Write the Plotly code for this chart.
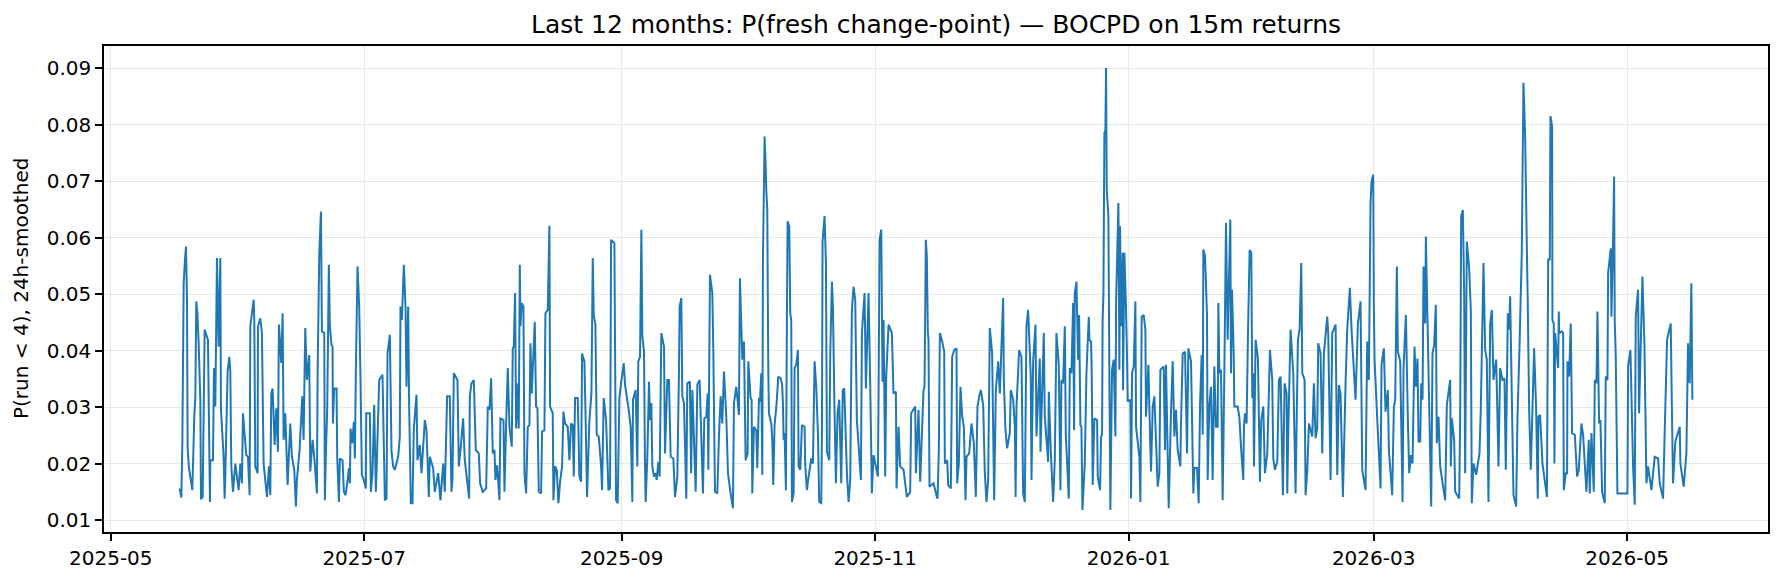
import datetime as dt
import plotly.graph_objects as go

TITLE = "Last 12 months: P(fresh change-point) — BOCPD on 15m returns"
Y_LABEL = "P(run < 4), 24h-smoothed"
BASE_DATE = dt.datetime(2025, 5, 1)

# (days since 2025-05-01, smoothed probability)
seg_may_jun = [
    (16.58, 0.0156), (16.99, 0.0140), (17.23, 0.0236), (17.55, 0.0519), (17.87, 0.0561), (18.11, 0.0584),
    (18.35, 0.0490), (18.51, 0.0227), (18.83, 0.0192), (19.63, 0.0153), (20.11, 0.0283), (20.35, 0.0316),
    (20.59, 0.0487), (20.85, 0.0466), (21.16, 0.0413), (21.56, 0.0313), (21.72, 0.0137), (22.12, 0.0141),
    (22.6, 0.0437), (23.4, 0.0419), (23.88, 0.0132), (23.96, 0.0206), (24.6, 0.0206), (24.85, 0.0369),
    (25.17, 0.0301), (25.57, 0.0564), (25.97, 0.0407), (26.37, 0.0564), (26.53, 0.0295), (27.17, 0.0212),
    (27.41, 0.0138), (27.57, 0.0177), (28.13, 0.0363), (28.53, 0.0389), (28.77, 0.0366), (29.02, 0.0195),
    (29.42, 0.0150), (29.98, 0.0200), (30.78, 0.0153), (31.18, 0.0200), (31.58, 0.0165), (31.82, 0.0289),
    (32.62, 0.0215), (33.02, 0.0212), (33.43, 0.0144), (33.59, 0.0443), (34.39, 0.0490), (34.55, 0.0454),
    (34.79, 0.0195), (35.35, 0.0183), (35.43, 0.0443), (35.99, 0.0457), (36.39, 0.0431), (36.79, 0.0200),
    (37.6, 0.0141), (38.08, 0.0195), (38.4, 0.0144), (38.64, 0.0324), (38.96, 0.0333), (39.44, 0.0233),
    (39.84, 0.0298), (40.24, 0.0221), (40.48, 0.0446), (41.04, 0.0378), (41.37, 0.0466), (41.61, 0.0242),
    (42.01, 0.0289), (42.57, 0.0162), (43.21, 0.0271), (43.61, 0.0212), (44.17, 0.0189), (44.57, 0.0124),
    (44.81, 0.0171), (45.45, 0.0224), (46.1, 0.0319), (46.42, 0.0242), (46.82, 0.0440), (47.22, 0.0348),
    (47.78, 0.0392), (48.02, 0.0186), (48.58, 0.0242), (48.98, 0.0212), (49.62, 0.0147), (49.8, 0.0363),
    (50.19, 0.0570), (50.59, 0.0646), (50.83, 0.0434), (51.39, 0.0431), (51.54, 0.0135),
]

seg_jun_jul = [
    (51.78, 0.0218), (52.1, 0.0295), (52.34, 0.0450), (52.5, 0.0552), (52.74, 0.0443), (53.14, 0.0410),
    (53.39, 0.0407), (53.47, 0.0271), (53.79, 0.0333), (54.35, 0.0333), (54.51, 0.0212), (54.91, 0.0132),
    (55.15, 0.0209), (55.79, 0.0206), (56.11, 0.0150), (56.51, 0.0144), (56.91, 0.0165), (57.32, 0.0192),
    (57.56, 0.0165), (57.72, 0.0262), (58.12, 0.0236), (58.52, 0.0274), (58.76, 0.0209), (59.0, 0.0366),
    (59.4, 0.0549), (59.8, 0.0478), (60.12, 0.0348), (60.44, 0.0180), (60.92, 0.0171), (61.4, 0.0156),
    (61.5, 0.0289), (62.37, 0.0289), (62.61, 0.0150), (63.01, 0.0183), (63.41, 0.0304), (63.81, 0.0150),
    (63.97, 0.0183), (64.61, 0.0348), (65.41, 0.0357), (65.98, 0.0135), (66.38, 0.0138), (66.62, 0.0395),
    (67.18, 0.0428), (67.58, 0.0221), (67.98, 0.0195), (68.38, 0.0189), (69.18, 0.0212), (69.58, 0.0248),
    (69.74, 0.0478), (70.07, 0.0454), (70.55, 0.0552), (70.95, 0.0478), (71.19, 0.0336), (71.59, 0.0478),
    (71.83, 0.0301), (72.23, 0.0130), (72.63, 0.0130), (72.95, 0.0262), (73.59, 0.0322), (73.83, 0.0206),
    (74.4, 0.0233), (74.8, 0.0183), (75.6, 0.0277), (76.0, 0.0259), (76.56, 0.0141), (76.8, 0.0212),
    (77.6, 0.0192), (78.0, 0.0150), (78.81, 0.0183), (79.37, 0.0135), (80.01, 0.0200), (80.41, 0.0150),
    (80.97, 0.0319), (81.61, 0.0319), (82.01, 0.0150), (82.25, 0.0171), (82.58, 0.0360), (83.46, 0.0348),
    (83.78, 0.0195), (84.26, 0.0230), (84.82, 0.0280), (85.22, 0.0206), (86.27, 0.0138), (86.43, 0.0319),
    (86.83, 0.0342), (87.39, 0.0348), (87.87, 0.0224),
]

seg_aug_sep = [
    (88.59, 0.0218), (88.91, 0.0165), (89.55, 0.0150), (90.36, 0.0156), (90.76, 0.0301), (91.16, 0.0295),
    (91.56, 0.0351), (91.96, 0.0218), (92.36, 0.0224), (92.6, 0.0171), (93.0, 0.0197), (93.56, 0.0135),
    (93.8, 0.0280), (94.53, 0.0277), (94.77, 0.0150), (95.17, 0.0271), (95.57, 0.0369), (95.97, 0.0265),
    (96.53, 0.0230), (96.77, 0.0404), (97.01, 0.0407), (97.33, 0.0502), (97.57, 0.0262), (97.73, 0.0342),
    (98.21, 0.0262), (98.46, 0.0552), (98.62, 0.0443), (98.94, 0.0484), (99.34, 0.0478), (99.58, 0.0183),
    (99.98, 0.0147), (100.38, 0.0265), (100.78, 0.0268), (101.02, 0.0413), (101.34, 0.0324), (102.06, 0.0451),
    (102.38, 0.0301), (102.71, 0.0298), (103.03, 0.0150), (103.59, 0.0147), (103.83, 0.0257), (104.39, 0.0259),
    (104.63, 0.0466), (105.19, 0.0472), (105.59, 0.0621), (105.75, 0.0301), (106.39, 0.0289), (106.55, 0.0135),
    (106.96, 0.0195), (107.36, 0.0189), (107.76, 0.0130), (108.16, 0.0168), (108.64, 0.0195), (108.96, 0.0292),
    (109.36, 0.0271), (110.0, 0.0265), (110.4, 0.0206), (110.8, 0.0271), (111.21, 0.0268), (111.45, 0.0177),
    (111.77, 0.0316), (112.41, 0.0316), (112.81, 0.0177), (113.21, 0.0168), (113.45, 0.0395), (114.01, 0.0381),
    (114.25, 0.0301), (114.65, 0.0141), (115.22, 0.0277), (115.7, 0.0324), (116.02, 0.0564), (116.26, 0.0463),
    (116.66, 0.0446), (116.98, 0.0251), (117.46, 0.0248), (118.02, 0.0197), (118.26, 0.0153), (118.66, 0.0316),
    (119.23, 0.0277), (119.79, 0.0153), (120.19, 0.0156), (120.43, 0.0596), (121.23, 0.0590), (121.63, 0.0135),
    (122.03, 0.0130), (122.43, 0.0316), (122.83, 0.0342), (123.48, 0.0378), (123.8, 0.0339), (124.68, 0.0295),
]

seg_sep_oct = [
    (125.15, 0.0265), (125.55, 0.0132), (125.71, 0.0313), (126.35, 0.0330), (126.75, 0.0195), (126.99, 0.0381),
    (127.4, 0.0389), (127.72, 0.0614), (127.96, 0.0425), (128.36, 0.0398), (128.6, 0.0195), (128.76, 0.0132),
    (129.16, 0.0212), (129.56, 0.0345), (129.8, 0.0277), (130.12, 0.0307), (130.36, 0.0195), (130.76, 0.0177),
    (131.17, 0.0183), (131.41, 0.0171), (131.81, 0.0203), (132.13, 0.0177), (132.53, 0.0431), (133.17, 0.0407),
    (133.41, 0.0218), (133.97, 0.0348), (134.37, 0.0348), (134.77, 0.0212), (135.42, 0.0209), (135.82, 0.0141),
    (136.38, 0.0177), (136.78, 0.0366), (136.94, 0.0478), (137.34, 0.0493), (137.58, 0.0319), (137.98, 0.0307),
    (138.54, 0.0138), (138.78, 0.0342), (139.4, 0.0345), (139.7, 0.0183), (140.0, 0.0330), (140.79, 0.0150),
    (141.2, 0.0340), (141.75, 0.0348), (142.55, 0.0147), (142.87, 0.0280), (143.35, 0.0283), (143.68, 0.0324),
    (143.84, 0.0189), (144.0, 0.0324), (144.24, 0.0534), (144.8, 0.0502), (145.04, 0.0401), (145.44, 0.0150),
    (146.0, 0.0147), (146.4, 0.0248), (146.8, 0.0319), (147.2, 0.0271), (147.6, 0.0363), (148.17, 0.0283),
    (148.57, 0.0183), (149.21, 0.0147), (149.77, 0.0121), (150.01, 0.0307), (150.57, 0.0336), (151.21, 0.0286),
    (151.45, 0.0528), (152.02, 0.0384), (152.42, 0.0416), (152.82, 0.0206), (153.3, 0.0218), (153.46, 0.0381),
    (154.02, 0.0316), (154.26, 0.0313), (154.42, 0.0147), (154.82, 0.0265), (155.38, 0.0259), (155.62, 0.0192),
    (156.03, 0.0316), (156.27, 0.0310), (156.59, 0.0360), (156.83, 0.0180), (156.99, 0.0567), (157.39, 0.0779),
    (157.63, 0.0729), (157.79, 0.0685), (158.03, 0.0649), (158.27, 0.0369), (158.43, 0.0289), (158.99, 0.0271),
    (159.23, 0.0242), (159.47, 0.0162), (159.79, 0.0268), (160.28, 0.0307), (160.68, 0.0354), (161.24, 0.0351),
    (161.6, 0.0340), (161.8, 0.0307), (161.96, 0.0242), (162.2, 0.0254), (162.52, 0.0153),
]

seg_oct_nov = [
    (162.76, 0.0460), (162.92, 0.0629), (163.32, 0.0620), (163.56, 0.0466), (163.8, 0.0454), (163.97, 0.0132),
    (164.37, 0.0147), (164.61, 0.0369), (165.01, 0.0375), (165.41, 0.0401), (165.57, 0.0195), (165.97, 0.0189),
    (166.37, 0.0268), (167.01, 0.0265), (167.17, 0.0197), (167.57, 0.0153), (167.98, 0.0177), (168.62, 0.0209),
    (169.02, 0.0200), (169.42, 0.0381), (169.82, 0.0336), (170.22, 0.0254), (170.54, 0.0132), (171.02, 0.0130),
    (171.18, 0.0245), (171.34, 0.0593), (171.82, 0.0638), (172.15, 0.0555), (172.39, 0.0221), (172.95, 0.0206),
    (173.19, 0.0395), (173.59, 0.0522), (173.83, 0.0478), (174.23, 0.0289), (174.55, 0.0165), (174.95, 0.0289),
    (175.35, 0.0313), (175.83, 0.0165), (176.2, 0.0330), (176.56, 0.0333), (177.2, 0.0183), (177.6, 0.0132),
    (178.0, 0.0171), (178.4, 0.0472), (178.8, 0.0513), (179.2, 0.0490), (179.6, 0.0277), (180.0, 0.0233),
    (180.57, 0.0171), (180.81, 0.0431), (181.45, 0.0502), (181.77, 0.0333), (182.41, 0.0502), (182.81, 0.0339),
    (183.21, 0.0147), (183.61, 0.0215), (184.25, 0.0192), (184.66, 0.0177), (184.82, 0.0324), (185.06, 0.0596),
    (185.46, 0.0614), (185.78, 0.0345), (186.02, 0.0454), (186.42, 0.0177), (186.66, 0.0354), (187.22, 0.0446),
    (188.02, 0.0431), (188.42, 0.0324), (188.99, 0.0327), (189.15, 0.0156), (189.63, 0.0265), (190.03, 0.0195),
    (190.83, 0.0189), (191.63, 0.0141), (192.43, 0.0150), (192.67, 0.0289), (193.64, 0.0301), (193.8, 0.0183),
    (194.44, 0.0295), (194.84, 0.0168), (195.64, 0.0330), (195.88, 0.0336), (196.2, 0.0596), (196.44, 0.0567),
    (196.68, 0.0431), (196.84, 0.0419), (197.08, 0.0159), (198.05, 0.0165), (198.85, 0.0141),
]

seg_nov_dec = [
    (199.01, 0.0138), (199.33, 0.0224), (199.57, 0.0431), (200.13, 0.0416), (200.62, 0.0398), (200.78, 0.0200),
    (201.34, 0.0206), (201.58, 0.0162), (202.22, 0.0156), (202.54, 0.0389), (203.02, 0.0401), (203.58, 0.0404),
    (203.74, 0.0165), (204.14, 0.0200), (204.54, 0.0336), (204.95, 0.0283), (205.35, 0.0265), (205.75, 0.0135),
    (205.99, 0.0212), (206.63, 0.0218), (207.19, 0.0271), (207.75, 0.0236), (208.23, 0.0141), (208.63, 0.0301),
    (209.04, 0.0319), (209.44, 0.0330), (210.0, 0.0304), (210.4, 0.0183), (210.8, 0.0132), (211.2, 0.0171),
    (211.6, 0.0440), (212.16, 0.0395), (212.64, 0.0135), (213.05, 0.0330), (213.61, 0.0381), (214.01, 0.0324),
    (214.81, 0.0493), (214.97, 0.0348), (215.37, 0.0259), (215.77, 0.0227), (216.41, 0.0254), (216.65, 0.0330),
    (217.22, 0.0313), (217.62, 0.0268), (217.8, 0.0141), (218.02, 0.0301), (218.66, 0.0401), (219.22, 0.0389),
    (219.62, 0.0147), (220.02, 0.0132), (220.42, 0.0443), (220.82, 0.0472), (221.46, 0.0354), (221.63, 0.0171),
    (222.03, 0.0381), (222.59, 0.0446), (222.83, 0.0248), (223.23, 0.0316), (223.63, 0.0386), (223.79, 0.0221),
    (224.59, 0.0431), (224.83, 0.0283), (225.64, 0.0203), (225.8, 0.0327), (226.28, 0.0221), (226.84, 0.0132),
    (227.24, 0.0206), (227.64, 0.0431), (228.2, 0.0375), (228.6, 0.0153), (228.84, 0.0348), (229.24, 0.0342),
    (229.65, 0.0443), (229.89, 0.0251), (230.61, 0.0138), (230.85, 0.0369), (231.25, 0.0360), (231.65, 0.0484),
    (231.89, 0.0259), (232.05, 0.0502), (232.45, 0.0522), (232.85, 0.0384), (233.09, 0.0463), (233.41, 0.0268),
    (233.65, 0.0265), (233.9, 0.0118), (234.46, 0.0200), (234.86, 0.0360), (235.42, 0.0460),
]

seg_dec_jan = [
    (235.57, 0.0419), (235.97, 0.0416), (236.13, 0.0360), (236.37, 0.0162), (236.77, 0.0280), (237.42, 0.0277),
    (237.58, 0.0177), (238.14, 0.0153), (238.38, 0.0248), (238.62, 0.0251), (238.75, 0.0454), (238.94, 0.0496),
    (239.18, 0.0785), (239.42, 0.0791), (239.58, 0.0900), (239.74, 0.0685), (240.14, 0.0638), (240.38, 0.0354),
    (240.62, 0.0118), (241.02, 0.0366), (241.42, 0.0384), (241.83, 0.0248), (242.0, 0.0487), (242.55, 0.0661),
    (242.79, 0.0366), (242.95, 0.0620), (243.19, 0.0443), (243.59, 0.0573), (243.67, 0.0330), (243.99, 0.0573),
    (244.39, 0.0472), (244.63, 0.0386), (244.79, 0.0310), (245.43, 0.0313), (245.6, 0.0138), (245.84, 0.0360),
    (246.24, 0.0372), (246.64, 0.0487), (246.8, 0.0265), (247.6, 0.0212), (247.84, 0.0132), (248.16, 0.0460),
    (248.64, 0.0463), (249.04, 0.0437), (249.2, 0.0283), (249.77, 0.0375), (250.17, 0.0248), (250.41, 0.0186),
    (250.81, 0.0301), (251.21, 0.0319), (252.01, 0.0159), (252.41, 0.0183), (252.65, 0.0366), (253.45, 0.0372),
    (253.77, 0.0224), (254.01, 0.0375), (254.66, 0.0121), (255.22, 0.0292), (255.62, 0.0381), (256.02, 0.0248),
    (256.42, 0.0295), (256.82, 0.0224), (257.46, 0.0195), (257.62, 0.0271), (258.03, 0.0395), (258.59, 0.0398),
    (259.07, 0.0218), (259.39, 0.0404), (260.03, 0.0381), (260.59, 0.0147), (260.83, 0.0192), (261.47, 0.0192),
    (261.88, 0.0130), (262.2, 0.0304), (262.6, 0.0392), (262.84, 0.0251), (263.0, 0.0579), (263.4, 0.0567),
    (263.88, 0.0463), (264.04, 0.0171), (264.44, 0.0304), (264.84, 0.0336), (265.24, 0.0171), (265.64, 0.0372),
    (266.04, 0.0265), (266.45, 0.0265), (266.61, 0.0484), (266.85, 0.0360), (267.25, 0.0366), (267.65, 0.0135),
    (268.05, 0.0360), (268.45, 0.0626), (268.85, 0.0419), (269.49, 0.0632), (269.65, 0.0360), (269.89, 0.0508),
    (270.3, 0.0395), (270.46, 0.0301), (271.26, 0.0301), (271.66, 0.0283), (272.06, 0.0230),
]

seg_feb_mar = [
    (272.61, 0.0171), (272.77, 0.0265), (273.01, 0.0289), (273.41, 0.0271), (273.73, 0.0425), (274.14, 0.0578),
    (274.54, 0.0573), (274.78, 0.0316), (275.02, 0.0360), (275.18, 0.0195), (275.58, 0.0419), (276.14, 0.0386),
    (276.62, 0.0168), (276.94, 0.0277), (277.42, 0.0301), (277.82, 0.0183), (278.39, 0.0218), (279.03, 0.0401),
    (279.59, 0.0348), (279.83, 0.0209), (280.23, 0.0189), (280.79, 0.0203), (281.19, 0.0348), (281.59, 0.0354),
    (282.15, 0.0144), (282.56, 0.0342), (283.04, 0.0324), (283.2, 0.0147), (283.44, 0.0259), (284.0, 0.0437),
    (284.64, 0.0360), (285.2, 0.0147), (285.76, 0.0419), (286.16, 0.0437), (286.57, 0.0555), (286.81, 0.0360),
    (287.37, 0.0348), (287.61, 0.0144), (288.01, 0.0186), (288.41, 0.0271), (289.21, 0.0248), (289.61, 0.0342),
    (290.01, 0.0245), (290.41, 0.0262), (290.65, 0.0413), (291.22, 0.0395), (291.62, 0.0218), (292.02, 0.0395),
    (292.82, 0.0460), (293.06, 0.0431), (293.62, 0.0171), (294.02, 0.0431), (294.83, 0.0446), (295.23, 0.0180),
    (295.63, 0.0339), (296.03, 0.0322), (296.59, 0.0141), (297.23, 0.0342), (297.63, 0.0437), (298.27, 0.0511),
    (298.67, 0.0437), (299.64, 0.0313), (300.2, 0.0448), (300.84, 0.0487), (301.24, 0.0189), (302.04, 0.0153),
    (302.44, 0.0416), (302.84, 0.0348), (303.24, 0.0661), (303.5, 0.0700), (303.89, 0.0711), (304.05, 0.0470),
    (304.21, 0.0384), (304.85, 0.0280), (305.65, 0.0156), (305.89, 0.0375), (306.45, 0.0404), (306.85, 0.0292),
    (307.41, 0.0330), (307.66, 0.0224), (308.46, 0.0144), (308.86, 0.0301),
]

seg_mar_apr = [
    (309.18, 0.0313), (309.58, 0.0549), (309.82, 0.0398), (310.38, 0.0381), (310.62, 0.0277), (310.95, 0.0132),
    (311.19, 0.0369), (311.75, 0.0463), (312.23, 0.0277), (312.55, 0.0183), (312.95, 0.0215), (313.35, 0.0200),
    (313.83, 0.0407), (314.15, 0.0336), (314.55, 0.0386), (314.79, 0.0239), (315.2, 0.0239), (315.44, 0.0342),
    (315.76, 0.0313), (316.0, 0.0549), (316.4, 0.0448), (316.56, 0.0602), (317.2, 0.0363), (317.84, 0.0124),
    (318.16, 0.0395), (318.56, 0.0410), (318.96, 0.0481), (319.2, 0.0236), (319.61, 0.0283), (320.01, 0.0195),
    (320.65, 0.0162), (321.21, 0.0135), (321.61, 0.0304), (322.41, 0.0348), (322.57, 0.0195), (322.81, 0.0280),
    (323.37, 0.0242), (323.62, 0.0150), (324.58, 0.0138), (324.82, 0.0280), (325.06, 0.0638), (325.46, 0.0649),
    (325.78, 0.0502), (326.02, 0.0183), (326.42, 0.0593), (326.98, 0.0546), (327.38, 0.0472), (327.62, 0.0130),
    (328.03, 0.0200), (328.67, 0.0180), (329.47, 0.0218), (329.79, 0.0298), (330.43, 0.0555), (330.83, 0.0401),
    (331.23, 0.0384), (331.63, 0.0132), (332.04, 0.0448), (332.44, 0.0472), (332.84, 0.0348), (333.48, 0.0384),
    (333.64, 0.0336), (334.04, 0.0195), (334.44, 0.0369), (335.0, 0.0348), (335.48, 0.0351), (335.8, 0.0189),
    (336.29, 0.0466), (336.61, 0.0437), (336.85, 0.0496), (337.65, 0.0144), (338.29, 0.0124), (338.61, 0.0280),
    (339.09, 0.0404), (339.65, 0.0573), (340.05, 0.0874), (340.46, 0.0779), (340.86, 0.0587), (341.1, 0.0478),
    (341.42, 0.0295), (341.82, 0.0189), (342.62, 0.0404), (343.1, 0.0298), (343.5, 0.0138), (343.66, 0.0283),
    (344.06, 0.0286), (344.63, 0.0200), (345.7, 0.0141),
]

seg_apr_may = [
    (346.0, 0.0561), (346.39, 0.0561), (346.55, 0.0815), (346.95, 0.0797), (347.03, 0.0454), (347.35, 0.0448),
    (347.51, 0.0200), (347.68, 0.0431), (348.4, 0.0369), (348.56, 0.0469), (348.64, 0.0431), (349.2, 0.0434),
    (349.6, 0.0431), (349.76, 0.0153), (350.24, 0.0183), (350.56, 0.0183), (350.64, 0.0381), (351.04, 0.0354),
    (351.44, 0.0448), (351.76, 0.0254), (352.41, 0.0251), (352.97, 0.0177), (353.37, 0.0189), (354.01, 0.0271),
    (354.41, 0.0251), (355.21, 0.0150), (355.77, 0.0242), (356.01, 0.0147), (356.42, 0.0254), (356.98, 0.0150),
    (357.22, 0.0348), (357.62, 0.0342), (357.86, 0.0469), (358.26, 0.0271), (358.58, 0.0277), (358.98, 0.0150),
    (359.62, 0.0130), (359.86, 0.0354), (360.27, 0.0348), (360.43, 0.0537), (361.07, 0.0581), (361.23, 0.0460),
    (361.63, 0.0600), (361.87, 0.0708), (362.03, 0.0451), (362.27, 0.0389), (362.67, 0.0147), (365.08, 0.0147),
    (365.24, 0.0372), (365.8, 0.0401), (366.44, 0.0195), (366.84, 0.0127), (367.08, 0.0460), (367.64, 0.0508),
    (367.88, 0.0289), (368.69, 0.0531), (369.17, 0.0413), (369.65, 0.0165), (370.05, 0.0195), (370.85, 0.0153),
    (371.65, 0.0212), (372.45, 0.0209), (372.86, 0.0165), (373.66, 0.0138), (374.06, 0.0259), (374.62, 0.0419),
    (375.5, 0.0448), (375.82, 0.0277), (376.06, 0.0165), (376.62, 0.0239), (377.67, 0.0265), (377.83, 0.0200),
    (378.63, 0.0159), (379.27, 0.0218), (379.67, 0.0413), (380.07, 0.0342), (380.47, 0.0519), (380.71, 0.0313),
]

segments = [seg_may_jun, seg_jun_jul, seg_aug_sep, seg_sep_oct, seg_oct_nov,
            seg_nov_dec, seg_dec_jan, seg_feb_mar, seg_mar_apr, seg_apr_may]

points = sorted(p for seg in segments for p in seg)
times = [BASE_DATE + dt.timedelta(days=d) for d, _ in points]
probs = [v for _, v in points]

# matplotlib-like 5% autoscale margins
t0, t1 = times[0], times[-1]
tpad = (t1 - t0) * 0.05
vmin, vmax = min(probs), max(probs)
vpad = (vmax - vmin) * 0.05

FONT = "DejaVu Sans"
fig = go.Figure()
fig.add_trace(go.Scatter(
    x=times, y=probs, mode="lines",
    line=dict(color="#1f77b4", width=2.0, simplify=False),
    showlegend=False, hoverinfo="x+y",
))

fig.update_layout(
    width=1784, height=582,
    margin=dict(l=104, r=16, t=46, b=50),
    paper_bgcolor="white", plot_bgcolor="white",
    font=dict(family=FONT, size=20, color="black"),
    title=dict(text=TITLE, x=0.5, xref="paper", xanchor="center",
               y=1 - 24 / 582, yref="container", yanchor="middle",
               font=dict(family=FONT, size=25, color="black")),
    annotations=[dict(text=Y_LABEL, xref="paper", yref="paper", x=0, y=0.5,
                      xshift=-83, textangle=-90, showarrow=False,
                      xanchor="center", yanchor="middle",
                      font=dict(family=FONT, size=20, color="black"))],
)

fig.update_xaxes(
    type="date", range=[t0 - tpad, t1 + tpad],
    tick0="2025-05-01", dtick="M2", tickformat="%Y-%m",
    showgrid=True, gridcolor="#e9e9e9", gridwidth=1.3,
    showline=True, linecolor="black", linewidth=1.6, mirror=True,
    ticks="outside", ticklen=7, tickwidth=1.6, tickcolor="black",
    tickfont=dict(family=FONT, size=20, color="black"),
    zeroline=False,
)
fig.update_yaxes(
    range=[vmin - vpad, vmax + vpad],
    tick0=0.01, dtick=0.01, tickformat=".2f",
    showgrid=True, gridcolor="#e9e9e9", gridwidth=1.3,
    showline=True, linecolor="black", linewidth=1.6, mirror=True,
    ticks="outside", ticklen=7, tickwidth=1.6, tickcolor="black",
    tickfont=dict(family=FONT, size=20, color="black"),
    zeroline=False,
)

fig.write_html("out.html")
